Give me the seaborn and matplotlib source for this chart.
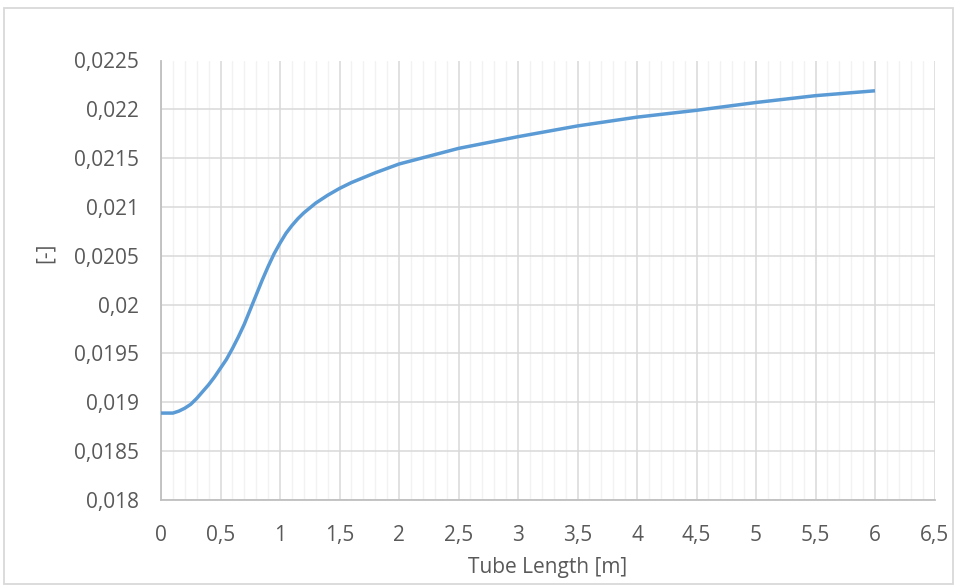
import matplotlib
matplotlib.use("Agg")
import matplotlib.pyplot as plt
from matplotlib.ticker import MultipleLocator, FuncFormatter
from matplotlib.patches import Rectangle
import seaborn as sns
import pandas as pd

# Tube length [m] and the dimensionless value along the tube
tube_length = [0.0, 0.05, 0.1, 0.15, 0.2, 0.25, 0.3, 0.35, 0.4, 0.45, 0.5, 0.55,
               0.6, 0.65, 0.7, 0.75, 0.8, 0.85, 0.9, 0.95, 1.0, 1.05, 1.1, 1.15,
               1.2, 1.3, 1.4, 1.5, 1.6, 1.8, 2.0, 2.25, 2.5, 3.0, 3.5,
               4.0, 4.5, 5.0, 5.5, 6.0]
value = [0.01889, 0.01889, 0.01889, 0.01891, 0.01894, 0.01898, 0.01904, 0.01911,
         0.01918, 0.01926, 0.01935, 0.01944, 0.01955, 0.01967, 0.01980, 0.01995,
         0.02010, 0.02025, 0.02039, 0.02052, 0.02063, 0.02073, 0.02081, 0.02088,
         0.02094, 0.02104, 0.02112, 0.02119, 0.02125, 0.02135, 0.02144, 0.02152,
         0.02160, 0.02172, 0.02183, 0.02192, 0.02199, 0.02207, 0.02214, 0.02219]

x_label = "Tube Length [m]"
y_label = "[-]"

df = pd.DataFrame({"x": tube_length, "y": value})

sns.set_theme(style="white")
plt.rcParams["font.family"] = ["Open Sans", "DejaVu Sans"]

text_color = "#595959"
fig = plt.figure(figsize=(9.58, 5.86), dpi=100)
ax = fig.add_axes([161 / 958, 1 - 500 / 586, (934.5 - 161) / 958, (500 - 60.5) / 586])

sns.lineplot(data=df, x="x", y="y", ax=ax, color="#5B9BD5", linewidth=2.5,
             zorder=5, solid_capstyle="butt", solid_joinstyle="round")

ax.set_xlim(0, 6.5)
ax.set_ylim(0.018, 0.0225)
ax.xaxis.set_major_locator(MultipleLocator(0.5))
ax.xaxis.set_minor_locator(MultipleLocator(0.1))
ax.yaxis.set_major_locator(MultipleLocator(0.0005))


def comma_fmt(v, _pos):
    s = f"{v:.4f}".rstrip("0").rstrip(".")
    return s.replace(".", ",")


ax.xaxis.set_major_formatter(FuncFormatter(comma_fmt))
ax.yaxis.set_major_formatter(FuncFormatter(comma_fmt))

ax.grid(which="minor", axis="x", color="#F2F2F2", linewidth=1.0, zorder=0)
ax.grid(which="major", axis="both", color="#D9D9D9", linewidth=1.1, zorder=1)
ax.set_axisbelow(True)

ax.tick_params(axis="both", which="both", length=0, labelsize=15,
               labelcolor=text_color)
ax.tick_params(axis="y", pad=16)
ax.tick_params(axis="x", pad=18)

for side in ["top", "right"]:
    ax.spines[side].set_visible(False)
for side in ["left", "bottom"]:
    ax.spines[side].set_color("#BFBFBF")
    ax.spines[side].set_linewidth(1.3)

ax.set_xlabel("")
ax.set_ylabel("")
fig.text(547.7 / 958, 1 - 568 / 586, x_label, ha="center", va="center",
         fontsize=15, color=text_color)
fig.text(45 / 958, 1 - 253 / 586, y_label, ha="center", va="center",
         rotation=90, fontsize=15, color=text_color)

# Chart frame
fig.patches.append(Rectangle((4 / 958, 1 - 584 / 586), 949 / 958, 576 / 586,
                             transform=fig.transFigure, fill=False,
                             edgecolor="#D9D9D9", linewidth=1.3))

fig.savefig("out.png", dpi=100)
